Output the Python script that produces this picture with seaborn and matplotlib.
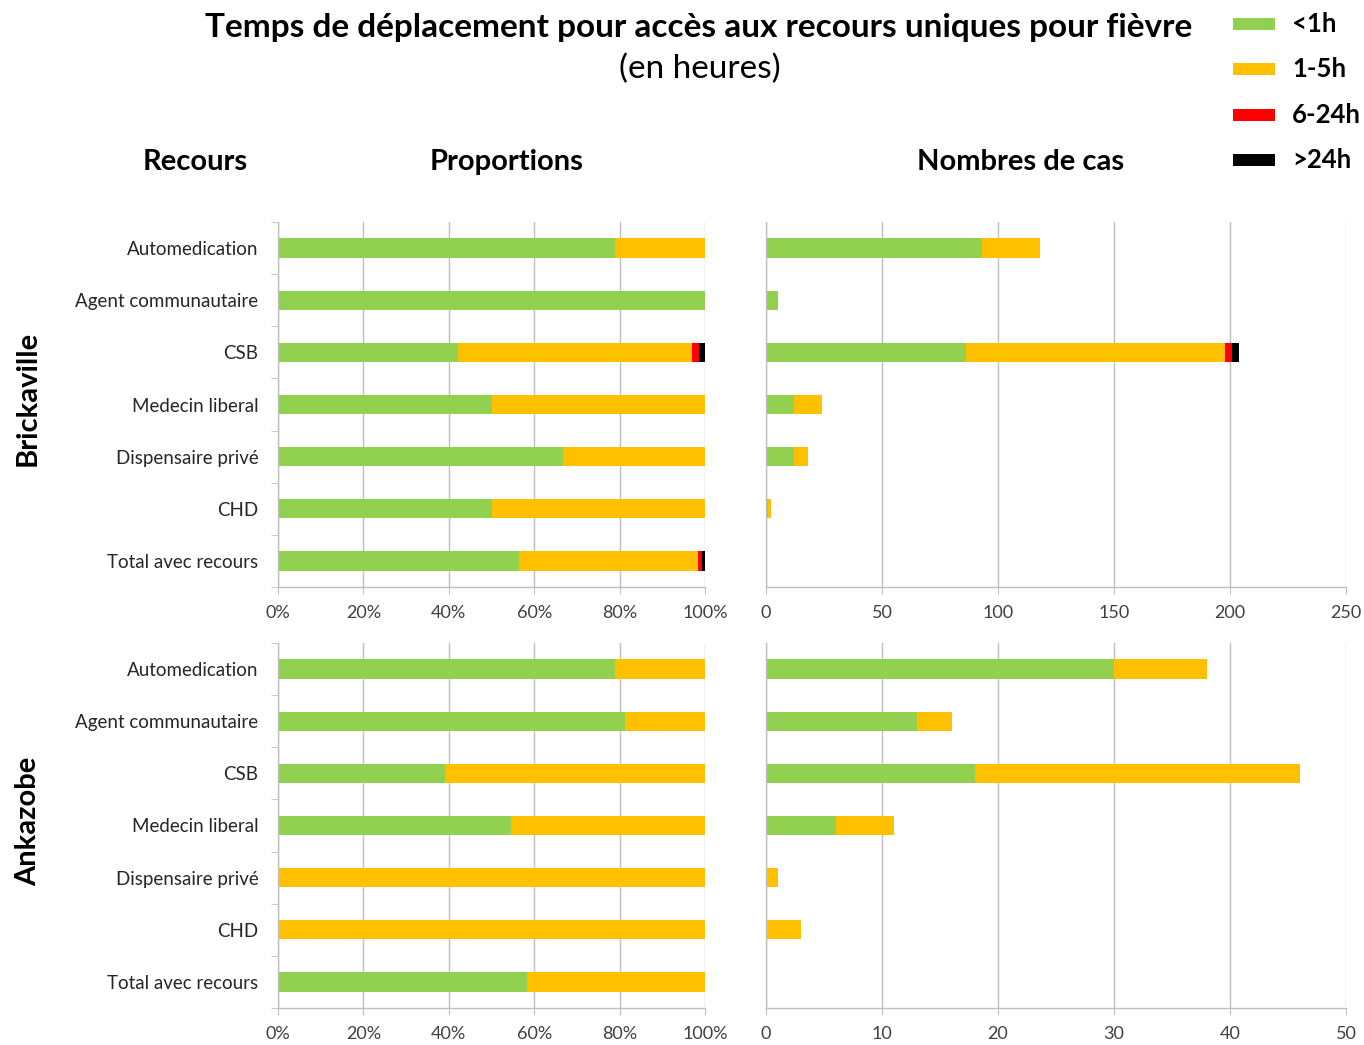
import numpy as np
import pandas as pd
import matplotlib
matplotlib.use("Agg")
import matplotlib.pyplot as plt
from matplotlib.patches import Rectangle
from matplotlib.ticker import MultipleLocator, FixedLocator, PercentFormatter
import seaborn as sns

recours = ["Automedication", "Agent communautaire", "CSB", "Medecin liberal",
           "Dispensaire privé", "CHD"]
total_label = "Total avec recours"
durees = ["<1h", "1-5h", "6-24h", ">24h"]
couleurs = ["#92D050", "#FFC000", "#FF0000", "#000000"]

# nombres de cas par recours et temps de deplacement
brick_lt1 = [93, 5, 86, 12, 12, 1]
brick_1_5 = [25, 0, 112, 12, 6, 1]
brick_6_24 = [0, 0, 3, 0, 0, 0]
brick_gt24 = [0, 0, 3, 0, 0, 0]

ankaz_lt1 = [30, 13, 18, 6, 0, 0]
ankaz_1_5 = [8, 3, 28, 5, 1, 3]
ankaz_6_24 = [0, 0, 0, 0, 0, 0]
ankaz_gt24 = [0, 0, 0, 0, 0, 0]

sites = ["Brickaville", "Ankazobe"]
xmax_cas = [250, 50]
pas_cas = [50, 10]

sns.set_style("white")
plt.rcParams['font.family'] = ['Lato', 'DejaVu Sans']

GRIS = "#BFBFBF"
TXT = "#404040"


def tableau(cols):
    df = pd.DataFrame(dict(zip(durees, cols)), index=recours)
    df.loc[total_label] = df.sum()
    return df


def empile(ax, df):
    cum = df.cumsum(axis=1)
    for k in range(len(durees) - 1, -1, -1):
        d = pd.DataFrame({"recours": list(cum.index), "val": cum[durees[k]].values})
        sns.barplot(data=d, x="val", y="recours", color=couleurs[k], orient="h",
                    width=0.37, saturation=1, linewidth=0, ax=ax, zorder=2)
    ax.set_ylim(len(df) - 0.5, -0.5)
    ax.set_xlabel("")
    ax.set_ylabel("")
    ax.set_axisbelow(True)
    ax.xaxis.grid(True, color=GRIS, lw=1)
    ax.yaxis.grid(False)
    for s in ["top", "right"]:
        ax.spines[s].set_visible(False)
    for s in ["left", "bottom"]:
        ax.spines[s].set_color(GRIS)
        ax.spines[s].set_linewidth(1)
    ax.tick_params(axis="x", bottom=True, length=5, color=GRIS, labelsize=13,
                   labelcolor=TXT, pad=8)


data = [tableau([brick_lt1, brick_1_5, brick_6_24, brick_gt24]),
        tableau([ankaz_lt1, ankaz_1_5, ankaz_6_24, ankaz_gt24])]

W, H = 1364, 1045
fig = plt.figure(figsize=(W / 100, H / 100), dpi=100)

rows_y = [(222, 587), (643, 1008)]
label_y = [398, 821]
for i, df in enumerate(data):
    y0, y1 = rows_y[i]
    axp = fig.add_axes([278 / W, 1 - y1 / H, 427 / W, (y1 - y0) / H])
    axc = fig.add_axes([766 / W, 1 - y1 / H, 580 / W, (y1 - y0) / H])

    prop = df.div(df.sum(axis=1), axis=0)
    empile(axp, prop)
    axp.set_xlim(0, 1)
    axp.xaxis.set_major_locator(MultipleLocator(0.2))
    axp.xaxis.set_major_formatter(PercentFormatter(1.0, decimals=0))
    axp.tick_params(axis="y", which="major", length=0, pad=14, labelsize=13.5,
                    labelcolor="#262626")
    axp.yaxis.set_minor_locator(FixedLocator(np.arange(-0.5, len(df), 1)))
    axp.tick_params(axis="y", which="minor", left=True, length=5, color=GRIS)

    cas = df.copy()
    cas.loc[total_label] = 0
    empile(axc, cas)
    axc.set_xlim(0, xmax_cas[i])
    axc.xaxis.set_major_locator(MultipleLocator(pas_cas[i]))
    axc.set_yticklabels([])
    axc.tick_params(axis="y", length=0)

    fig.text(28 / W, 1 - label_y[i] / H, sites[i], rotation=90, ha="center",
             va="center", fontsize=21, fontweight="bold", color="black")

fig.text(699 / W, 1 - 27 / H, "Temps de déplacement pour accès aux recours uniques pour fièvre",
         ha="center", va="center", fontsize=24, fontweight="bold", color="black")
fig.text(700 / W, 1 - 69 / H, "(en heures)", ha="center", va="center", fontsize=24,
         color="black")
for txt, x in [("Recours", 195), ("Proportions", 507), ("Nombres de cas", 1021)]:
    fig.text(x / W, 1 - 162 / H, txt, ha="center", va="center", fontsize=21,
             fontweight="bold", color="black")

for k, yk in enumerate([24, 69, 115, 160]):
    fig.patches.append(Rectangle((1233 / W, 1 - (yk + 6) / H), 42 / W, 12 / H,
                                 transform=fig.transFigure, facecolor=couleurs[k],
                                 edgecolor="none"))
    fig.text(1292 / W, 1 - yk / H, durees[k], ha="left", va="center", fontsize=18.5,
             fontweight="bold", color="black")

fig.savefig("out.png", dpi=100)
